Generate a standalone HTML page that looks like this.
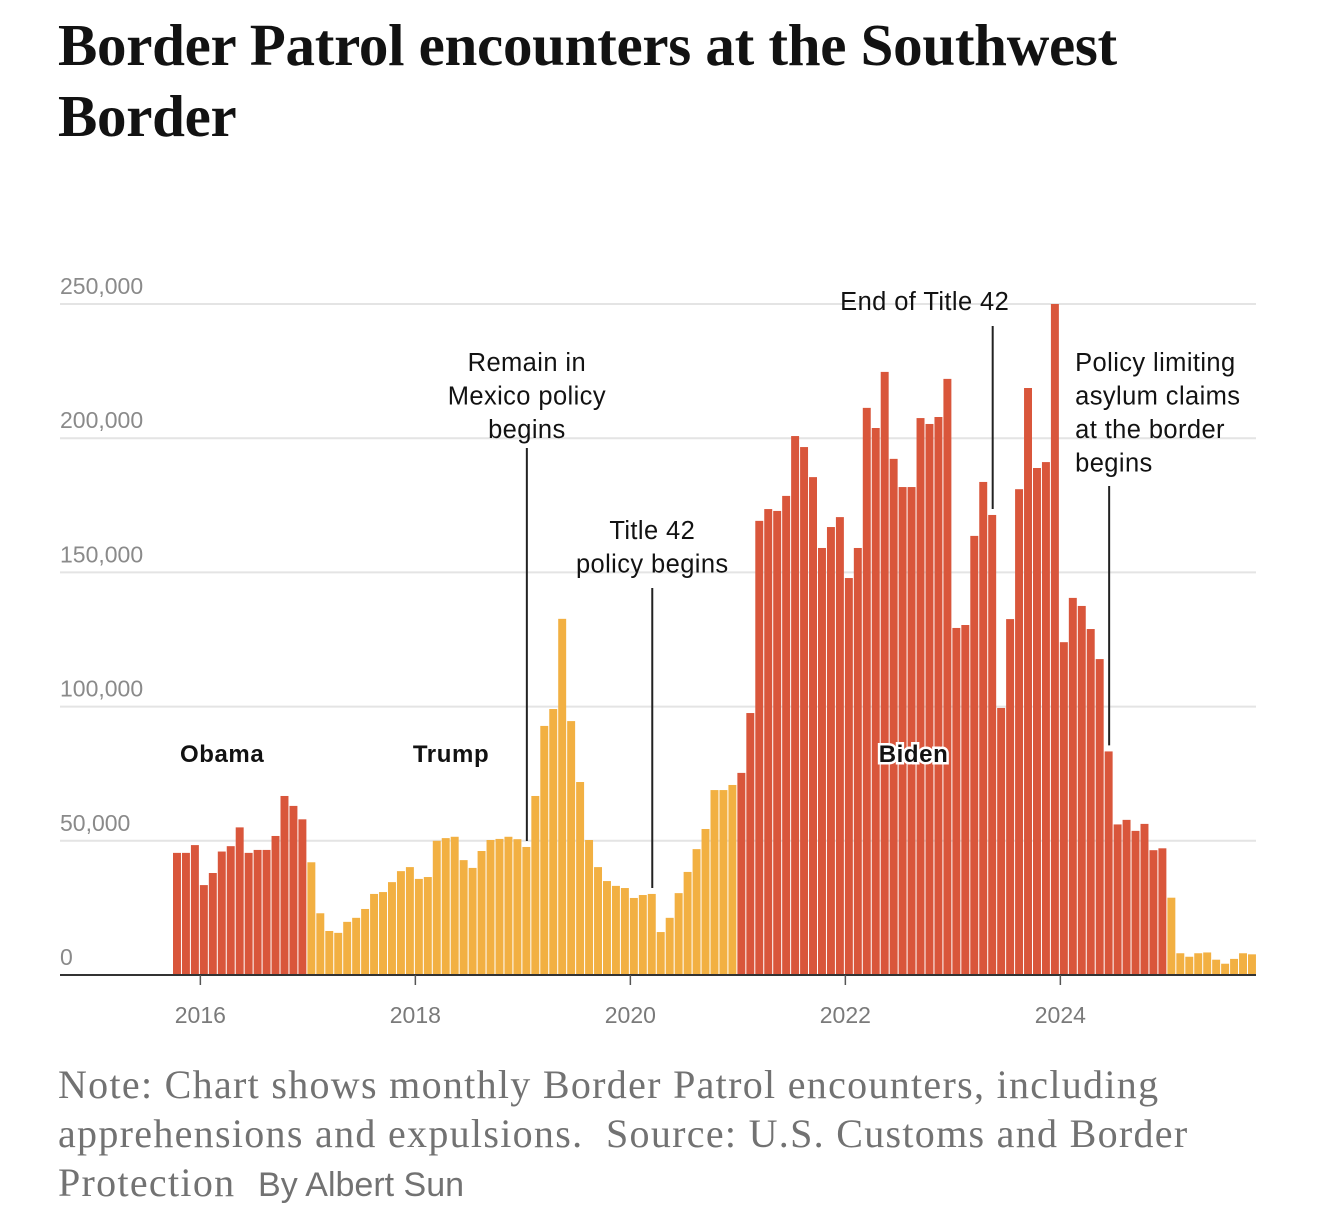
<!DOCTYPE html>
<html><head><meta charset="utf-8"><style>
body{margin:0;width:1338px;height:1222px;background:#fff;overflow:hidden;position:relative;font-family:"Liberation Sans",sans-serif}
h1{position:absolute;left:58px;top:10px;margin:0;font:bold 59px/71px "Liberation Serif",serif;letter-spacing:-0.3px;color:#121212;width:1250px}
.note{position:absolute;left:58px;top:1060px;font:40px/49px "Liberation Serif",serif;letter-spacing:1.3px;color:#727272;width:1180px}
.note .by{font-family:"Liberation Sans",sans-serif;font-size:34px;letter-spacing:0}
</style></head><body>
<h1>Border Patrol encounters at the Southwest<br>Border</h1>
<svg id="chart" width="1338" height="1222" style="position:absolute;left:0;top:0"></svg>
<div class="note">Note: Chart shows monthly Border Patrol encounters, including apprehensions and expulsions.&nbsp; Source: U.S. Customs and Border Protection&nbsp; <span class="by">By Albert Sun</span></div>
<script>
const startMonth = "2015-10";
const values = [45.5,45.5,48.4,33.5,38,46,48,55,45.5,46.6,46.6,51.8,66.7,63,58,
42,23,16.4,15.7,19.8,21.3,24.6,30.2,30.9,34.6,38.7,40.2,35.8,36.5,50,51,51.5,42.8,39.9,46.2,50.3,50.7,51.5,50.6,47.7,66.7,92.8,99.1,132.7,94.6,71.9,50.3,40.2,35,33.2,32.4,28.7,29.8,30.2,16,21.3,30.5,38.4,46.9,54.4,68.9,68.9,70.8,
75.3,97.6,169.2,173.6,172.9,178.5,200.8,196.7,185.5,159.1,166.9,170.6,147.9,159.1,211.3,203.8,224.7,192.3,181.8,181.8,207.5,205.3,207.9,222.1,129.3,130.4,163.6,183.7,171.4,99.5,132.6,181,218.7,188.9,191.1,250,124,140.5,137.5,128.9,117.7,83.3,56.1,57.8,53.7,56.3,46.5,47.2,
28.8,8.1,6.8,8.1,8.4,5.7,4.2,6,8.1,7.7];
const admins = [{name:"Obama",from:0,to:15},{name:"Trump",from:15,to:63},{name:"Biden",from:63,to:111},{name:"Trump",from:111,to:999}];
const yTicks = [0,50000,100000,150000,200000,250000];
const yTickLabels = ["0","50,000","100,000","150,000","200,000","250,000"];
const xTickYears = [2016,2018,2020,2022,2024];
const annotations = [
 {lines:["Remain in","Mexico policy","begins"],month:"2019-01",anchor:"middle",dx:0,ty:371,top:448},
 {lines:["Title 42","policy begins"],month:"2020-03",anchor:"middle",dx:0,ty:539,top:588},
 {lines:["End of Title 42"],month:"2023-05",anchor:"middle",dx:-68,ty:310,top:326},
 {lines:["Policy limiting","asylum claims","at the border","begins"],month:"2024-06",anchor:"start",dx:-34,ty:371,top:486}
];
const adminLabels = [{name:"Obama",month:"2015-11",v:83000},{name:"Trump",month:"2018-01",v:83000},{name:"Biden",month:"2022-05",v:83000}];

const NS="http://www.w3.org/2000/svg";
const svg=document.getElementById('chart');
const X0=60,X1=1256,Y0=975,Y1=304;
const monthW=107.5/12;
function monthIndex(s){const [y,m]=s.split('-').map(Number);const [y0,m0]=startMonth.split('-').map(Number);return (y-y0)*12+(m-m0);}
const barX0=173;
function xOf(i){return barX0+i*monthW;}
function yOf(v){return Y0-(v/250000)*(Y0-Y1);}
function mk(tag,attrs){const e=document.createElementNS(NS,tag);for(const k in attrs)e.setAttribute(k,attrs[k]);svg.appendChild(e);return e;}
yTicks.forEach((t,i)=>{
  if(t>0){const g=mk('line',{x1:X0,x2:X1,y1:yOf(t),y2:yOf(t),stroke:'#e4e4e4','stroke-width':2});
  
  }
  const tx=mk('text',{x:X0,y:yOf(t)-10,'font-size':23,fill:'#8a8a8a','font-family':'Liberation Sans, sans-serif'});
  tx.textContent=yTickLabels[i];
  
  
});
function colorFor(i){for(const a of admins){if(i>=a.from&&i<a.to)return (a.name==='Trump')?'#f2b042':'#d9563b';}return '#d9563b';}
values.forEach((v,i)=>{
  const r=mk('rect',{x:xOf(i),y:yOf(v*1000),width:monthW-1,height:Y0-yOf(v*1000),fill:colorFor(i)});
  
  
});
const ax=mk('line',{x1:X0,x2:X1,y1:Y0,y2:Y0,stroke:'#333','stroke-width':2});


xTickYears.forEach(y=>{
  const x=xOf(monthIndex(y+"-01"))+monthW/2-4;
  const tk=mk('line',{x1:x,x2:x,y1:Y0,y2:Y0+10,stroke:'#555','stroke-width':1.5});
  
  
  const t=mk('text',{x:x,y:1023,'text-anchor':'middle','font-size':23,fill:'#7a7a7a','font-family':'Liberation Sans, sans-serif'});
  t.textContent=y;
  
  
});
annotations.forEach(a=>{
  const i=monthIndex(a.month);const x=xOf(i)+monthW/2;
  const top=yOf(values[i]*1000)-6;
  const l=mk('line',{x1:x,x2:x,y1:a.top,y2:top,stroke:'#222','stroke-width':2});
  
  
  const t=mk('text',{x:x+a.dx,y:a.ty,'text-anchor':a.anchor,'font-size':25.5,'letter-spacing':0.4,fill:'#121212','font-family':'Liberation Sans, sans-serif'});
  
  
  a.lines.forEach((s,k)=>{const ts=document.createElementNS(NS,'tspan');ts.setAttribute('x',x+a.dx);ts.setAttribute('dy',k?33.5:0);ts.textContent=s;t.appendChild(ts);});
});
adminLabels.forEach(a=>{
  const x=xOf(monthIndex(a.month));
  const t=mk('text',{x:x-2,y:yOf(a.v)+10,'font-size':24,'font-weight':'bold','letter-spacing':0.6,fill:'#121212',stroke:'#fff','stroke-width':5,'paint-order':'stroke','font-family':'Liberation Sans, sans-serif'});
  t.textContent=a.name;
  
  
});
</script>
</body></html>
